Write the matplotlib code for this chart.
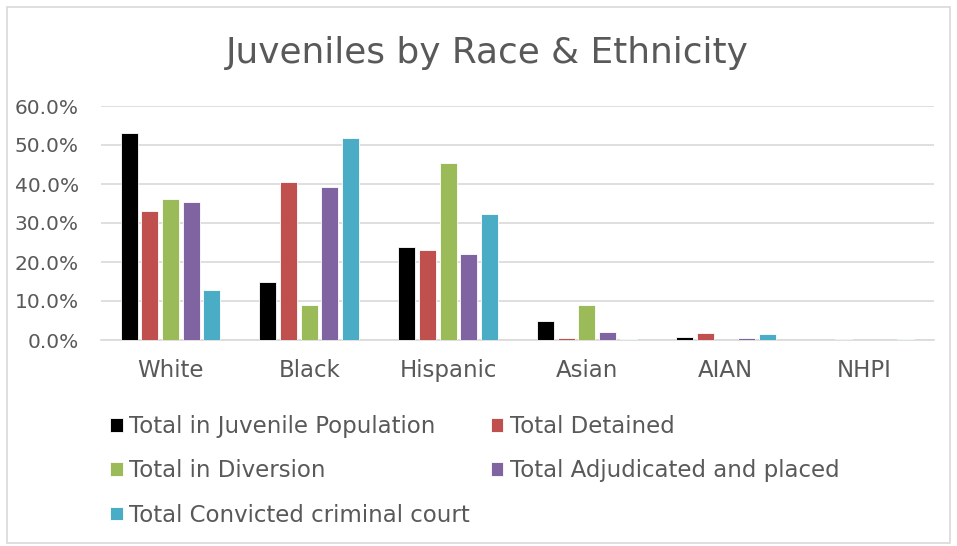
import matplotlib
matplotlib.use("Agg")
import matplotlib.pyplot as plt
import numpy as np
from matplotlib.patches import Rectangle
from matplotlib.ticker import FuncFormatter, MultipleLocator

categories = ["White", "Black", "Hispanic", "Asian", "AIAN", "NHPI"]
series_names = [
    "Total in Juvenile Population",
    "Total Detained",
    "Total in Diversion",
    "Total Adjudicated and placed",
    "Total Convicted criminal court",
]
juvenile_population = [53.0, 14.9, 23.9, 4.9, 0.8, 0.0]
detained = [33.2, 40.5, 23.0, 0.5, 1.8, 0.2]
diversion = [36.2, 9.0, 45.3, 9.1, 0.0, 0.0]
adjudicated = [35.3, 39.2, 22.1, 2.1, 0.5, 0.0]
convicted = [12.9, 51.7, 32.3, 0.3, 1.6, 0.3]
series_values = [juvenile_population, detained, diversion, adjudicated, convicted]
colors = ["#000000", "#C0504D", "#9BBB59", "#8064A2", "#4BACC6"]

text_color = "#595959"
grid_color = "#D9D9D9"
font = "DejaVu Sans"

fig = plt.figure(figsize=(9.57, 5.46), dpi=100)
fig.patches.append(Rectangle((7 / 957, 3 / 546), 943 / 957, 536 / 546,
                             transform=fig.transFigure, fill=False,
                             edgecolor="#D9D9D9", linewidth=1.2))

ax = fig.add_axes([101 / 957, 1 - 340 / 546, 833 / 957, 234 / 546])
x = np.arange(len(categories))
bw = 0.122
slot = 0.149
handles = []
for i, (name, vals, c) in enumerate(zip(series_names, series_values, colors)):
    h = ax.bar(x + (i - 2) * slot, vals, width=bw, color=c, edgecolor="white",
               linewidth=0.6, label=name, zorder=3)
    handles.append(h)

ax.set_xlim(-0.5, len(categories) - 0.5)
ax.set_ylim(0, 60)
ax.yaxis.set_major_locator(MultipleLocator(10))
ax.yaxis.set_major_formatter(FuncFormatter(lambda v, p: f"{v:.1f}%"))
ax.grid(axis="y", color=grid_color, linewidth=1.2, zorder=0)
for s in ["top", "right", "left"]:
    ax.spines[s].set_visible(False)
ax.spines["bottom"].set_color(grid_color)
ax.spines["bottom"].set_linewidth(1.2)
ax.tick_params(axis="both", length=0, labelcolor=text_color)
ax.tick_params(axis="y", pad=16, labelsize=14.5)
ax.tick_params(axis="x", pad=14, labelsize=16.5)
ax.set_xticks(x)
ax.set_xticklabels(categories)
for lab in ax.get_xticklabels() + ax.get_yticklabels():
    lab.set_family(font)

fig.text(487 / 957, 1 - 53 / 546, "Juveniles by Race & Ethnicity", ha="center",
         va="center", fontsize=25.8, color=text_color, family=font)

order = [0, 2, 4, 1, 3]
leg = fig.legend([handles[i] for i in order], [series_names[i] for i in order],
                 ncol=2, loc="upper left", bbox_to_anchor=(110 / 957, 1 - 415 / 546),
                 frameon=False, fontsize=16.5, handlelength=0.55, handleheight=0.55,
                 handletextpad=0.3, columnspacing=0.9, labelspacing=0.93,
                 borderaxespad=0, borderpad=0)
for t in leg.get_texts():
    t.set_color(text_color)
    t.set_family(font)

fig.savefig("out.png", dpi=100)
